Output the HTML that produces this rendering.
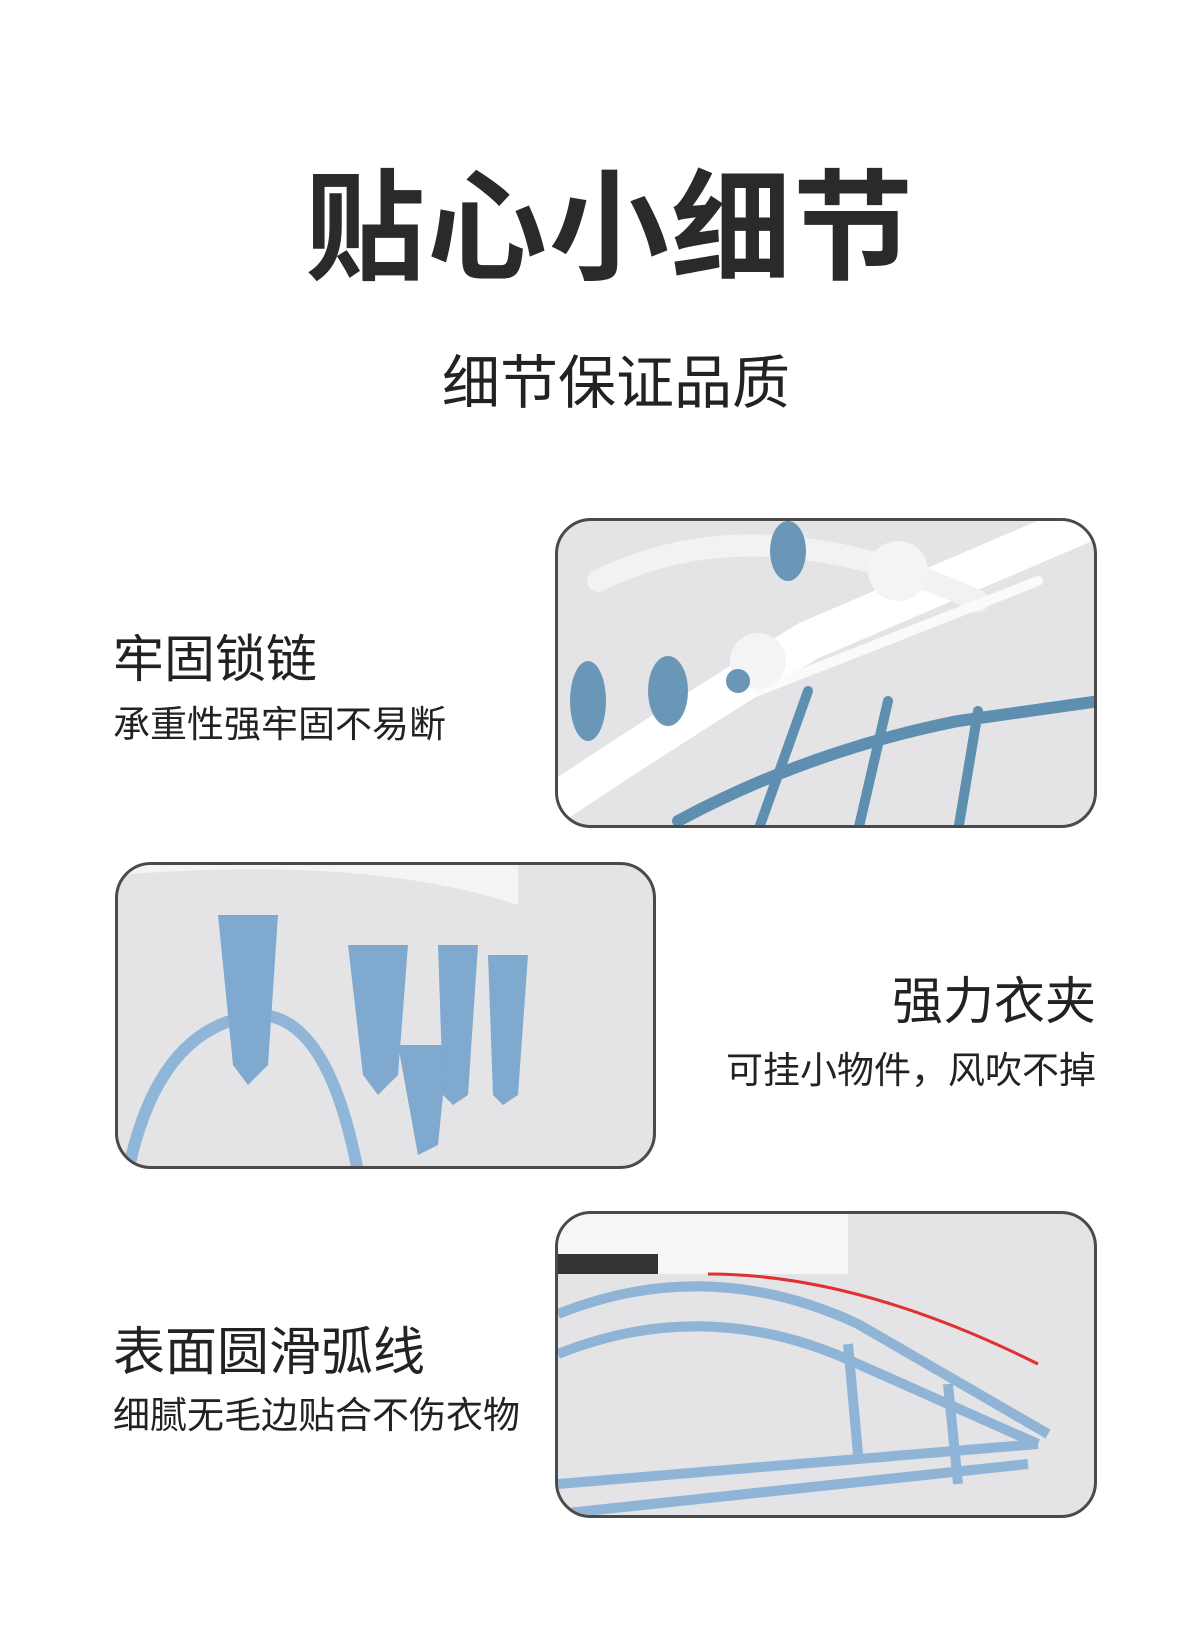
<!DOCTYPE html>
<html><head><meta charset="utf-8"><style>
body{margin:0;width:1200px;height:1638px;background:#fff;position:relative;overflow:hidden;font-family:"Liberation Sans","Noto Sans CJK SC",sans-serif;color:#222}
.t{position:absolute;white-space:nowrap}
.box{position:absolute;border:3px solid #4a4a4a;border-radius:36px;background:#e4e4e6;overflow:hidden;box-sizing:border-box}
</style></head><body>
<div class="t" style="left:10px;width:1200px;text-align:center;top:131px;font-size:120px;font-weight:bold;color:#2a2a2a;letter-spacing:2px">贴心小细节</div>
<div class="t" style="left:16px;width:1200px;text-align:center;top:336px;font-size:58px;color:#222">细节保证品质</div>

<div class="t" style="left:113px;top:618px;font-size:51px">牢固锁链</div>
<div class="t" style="left:113px;top:694px;font-size:37px">承重性强牢固不易断</div>
<div class="box" style="left:555px;top:518px;width:542px;height:310px">
<svg width="542" height="310"><g fill="none" stroke-linecap="round">
<path d="M0 280 Q120 200 250 120 L530 0" stroke="#fff" stroke-width="40"/>
<path d="M40 60 Q200 -20 420 80" stroke="#f2f2f2" stroke-width="22"/>
<path d="M120 300 Q250 230 400 200 L542 180" stroke="#5f8fb0" stroke-width="12"/>
<path d="M200 310 L250 170 M300 310 L330 180 M400 310 L420 190" stroke="#5f8fb0" stroke-width="10"/>
<path d="M200 170 L480 60" stroke="#fafafa" stroke-width="10"/>
</g>
<ellipse cx="230" cy="30" rx="18" ry="30" fill="#6a97b8"/>
<ellipse cx="110" cy="170" rx="20" ry="35" fill="#6a97b8"/>
<ellipse cx="30" cy="180" rx="18" ry="40" fill="#6a97b8"/>
<circle cx="200" cy="140" r="28" fill="#f4f4f4"/><circle cx="340" cy="50" r="30" fill="#f4f4f4"/>
<circle cx="180" cy="160" r="12" fill="#6a97b8"/></svg></div>

<div class="box" style="left:115px;top:862px;width:541px;height:307px">
<svg width="541" height="307"><path d="M0 10 Q250 -10 400 40 L400 0 L0 0Z" fill="#f4f4f4"/>
<path d="M10 307 Q40 160 140 150 Q210 150 240 307" fill="none" stroke="#8fb6d8" stroke-width="12"/>
<g fill="#7fa9cf"><path d="M100 50 L160 50 L150 200 L130 220 L115 200Z"/><path d="M230 80 L290 80 L280 210 L260 230 L245 210Z"/>
<path d="M320 80 L360 80 L350 230 L335 240 L325 230Z"/><path d="M370 90 L410 90 L400 230 L385 240 L375 230Z"/>
<path d="M280 180 L330 180 L320 280 L300 290Z"/></g></svg></div>
<div class="t" style="right:104px;top:960px;font-size:51px">强力衣夹</div>
<div class="t" style="right:104px;top:1040px;font-size:37px">可挂小物件，风吹不掉</div>

<div class="t" style="left:113px;top:1310px;font-size:52px">表面圆滑弧线</div>
<div class="t" style="left:113px;top:1385px;font-size:37px">细腻无毛边贴合不伤衣物</div>
<div class="box" style="left:555px;top:1211px;width:542px;height:307px">
<svg width="542" height="307"><rect x="0" y="0" width="290" height="60" fill="#f6f6f6"/><rect x="0" y="40" width="100" height="20" fill="#333"/>
<g fill="none" stroke="#8fb4d6" stroke-width="10">
<path d="M0 100 Q150 40 300 110 L490 220"/><path d="M0 140 Q150 80 300 150 L480 230"/>
<path d="M0 270 L480 230"/><path d="M0 300 L470 250"/><path d="M290 130 L300 240 M390 170 L400 270"/></g>
<path d="M150 60 Q300 60 480 150" stroke="#e03030" stroke-width="3" fill="none"/></svg></div>
</body></html>
